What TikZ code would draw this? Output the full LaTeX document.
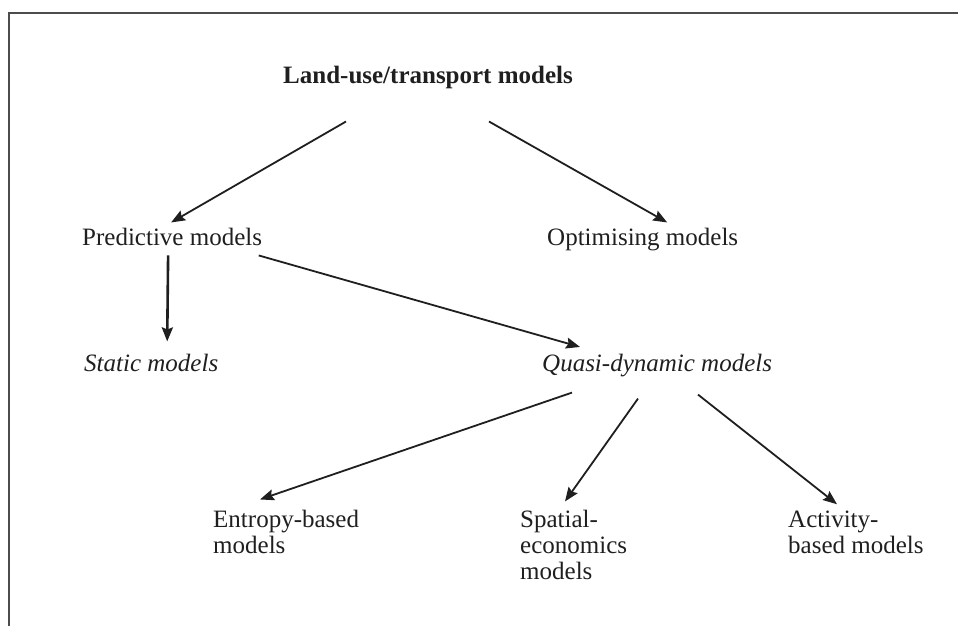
\documentclass[tikz,border=0pt]{standalone}
\usepackage{fontspec}
\setmainfont{Liberation Serif}
\usetikzlibrary{arrows.meta}
\begin{document}
\begin{tikzpicture}[x=1pt,y=-1pt,
  lbl/.style={inner sep=0pt,anchor=base west,align=left,
    font=\fontsize{25}{26}\selectfont,text=black!88},
  ital/.style={lbl,font=\fontsize{25}{26}\selectfont\itshape},
  hdr/.style={lbl,font=\fontsize{25}{26}\selectfont\bfseries},
  arr/.style={draw=black!88,line width=1.8pt,
    -{Stealth[length=14pt,width=11pt,inset=2pt]}},
  heavyarr/.style={arr,line width=2.6pt},
  frame/.style={draw=black!70,line width=1.6pt}]
\useasboundingbox (0,0) rectangle (958,626);

% open frame around the chart
\draw[frame] (9,630) -- (9,13) -- (962,13);

% labels (multi-line labels sit on the baseline of their last line)
\node[hdr]  (top)   at (283,83)  {Land-use/transport models};
\node[lbl]  (pred)  at (82,245)  {Predictive models};
\node[lbl]  (opt)   at (547,245) {Optimising models};
\node[ital] (stat)  at (84,371)  {Static models};
\node[ital] (quasi) at (542,371) {Quasi-dynamic models};
\node[lbl]  (ent)   at (213,553) {Entropy-based\\models};
\node[lbl]  (spat)  at (520,579) {Spatial-\\economics\\models};
\node[lbl]  (act)   at (788,553) {Activity-\\based models};

% connectors
\draw[arr] ([xshift=-82pt,yshift=-33pt]top.south)
        -- ([xshift=-1pt,yshift=5pt]pred.north);
\draw[arr] ([xshift=61pt,yshift=-33pt]top.south)
        -- ([xshift=24.5pt,yshift=5pt]opt.north);
\draw[heavyarr] ([xshift=-4pt,yshift=-10pt]pred.south)
        -- ([xshift=16pt,yshift=12pt]stat.north);
\draw[arr] ([xshift=-3.5pt,yshift=-10pt]pred.south east)
        -- ([xshift=38pt,yshift=6.5pt]quasi.north west);
\draw[arr] ([xshift=30pt,yshift=-16pt]quasi.south west)
        -- ([xshift=47pt,yshift=10pt]ent.north west);
\draw[arr] ([xshift=96pt,yshift=-22pt]quasi.south west)
        -- ([xshift=45pt,yshift=8pt]spat.north west);
\draw[arr] ([xshift=156pt,yshift=-18pt]quasi.south west)
        -- ([xshift=49pt,yshift=6pt]act.north west);
\end{tikzpicture}
\end{document}
